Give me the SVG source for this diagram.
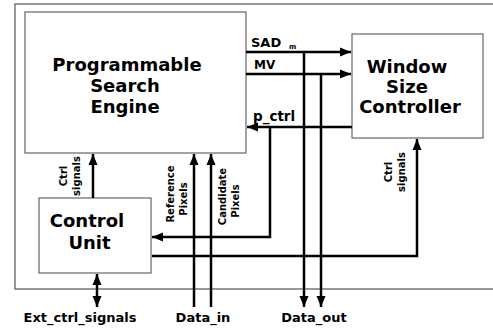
<svg xmlns="http://www.w3.org/2000/svg" width="493" height="331" viewBox="0 0 493 331">
<style>
.box{fill:#fff;stroke:#666;stroke-width:1.2}
.frame{fill:none;stroke:#555;stroke-width:1.2}
.big{font-family:"DejaVu Sans",Verdana,sans-serif;font-weight:bold;font-size:18px;fill:#000;text-anchor:middle}
.lbl{font-family:"DejaVu Sans",Verdana,sans-serif;font-weight:bold;fill:#000}
.rot{font-family:"DejaVu Sans",Verdana,sans-serif;font-weight:bold;font-size:10px;fill:#000;text-anchor:middle}
.io{font-family:"DejaVu Sans",Verdana,sans-serif;font-weight:bold;font-size:13px;fill:#000;text-anchor:middle}
.c{fill:none;stroke:#000;stroke-width:2.5}
</style>
<defs>
<marker id="ah" markerUnits="userSpaceOnUse" markerWidth="12" markerHeight="12" viewBox="0 0 12 12" refX="11" refY="6" orient="auto">
<path d="M0,1.5 L11,6 L0,10.5 Z" fill="#000"/>
</marker>
<marker id="ahs" markerUnits="userSpaceOnUse" markerWidth="12" markerHeight="12" viewBox="0 0 12 12" refX="1" refY="6" orient="auto">
<path d="M12,1.5 L1,6 L12,10.5 Z" fill="#000"/>
</marker>
</defs>
<rect class="frame" x="15" y="4" width="500" height="285"/>
<g id="pse">
<rect class="box" x="25" y="12" width="221" height="141"/>
<text class="big" x="127" y="71">Programmable</text>
<text class="big" x="125" y="92">Search</text>
<text class="big" x="125" y="113">Engine</text>
</g>
<g id="wsc">
<rect class="box" x="352" y="34" width="131" height="104"/>
<text class="big" x="407" y="73">Window</text>
<text class="big" x="407" y="93">Size</text>
<text class="big" x="410" y="113">Controller</text>
</g>
<g id="cu">
<rect class="box" x="39" y="198" width="112" height="75"/>
<text class="big" x="87" y="227">Control</text>
<text class="big" x="89.5" y="249">Unit</text>
</g>
<g id="connectors">
<path class="c" d="M246,52 H351" marker-end="url(#ah)"/>
<path class="c" d="M246,74 H351" marker-end="url(#ah)"/>
<path class="c" d="M352,127 H247" marker-end="url(#ah)"/>
<path class="c" d="M270,127 V237 H152" marker-end="url(#ah)"/>
<path class="c" d="M152,256 H417 V139" marker-end="url(#ah)"/>
<path class="c" d="M93,198 V154" marker-end="url(#ah)"/>
<path class="c" d="M97,274 V307" marker-start="url(#ahs)" marker-end="url(#ah)"/>
<path class="c" d="M304,52 V307" marker-end="url(#ah)"/>
<path class="c" d="M321,74 V307" marker-end="url(#ah)"/>
<path class="c" d="M194,307 V154" marker-end="url(#ah)"/>
<path class="c" d="M211,307 V154" marker-end="url(#ah)"/>
</g>
<g id="labels">
<text class="lbl" x="251" y="47" font-size="13">SAD</text>
<text class="lbl" x="289" y="49" font-size="7">m</text>
<text class="lbl" x="254" y="69" font-size="12">MV</text>
<text class="lbl" x="253" y="121" font-size="13.5">p_ctrl</text>
<text class="rot" transform="translate(67,176) rotate(-90)">Ctrl</text>
<text class="rot" transform="translate(79.5,176) rotate(-90)">signals</text>
<text class="rot" transform="translate(174,194) rotate(-90)">Reference</text>
<text class="rot" transform="translate(187,199) rotate(-90)">Pixels</text>
<text class="rot" transform="translate(226,196.5) rotate(-90)">Candidate</text>
<text class="rot" transform="translate(239,201) rotate(-90)">Pixels</text>
<text class="rot" transform="translate(392,172) rotate(-90)">Ctrl</text>
<text class="rot" transform="translate(404.5,172) rotate(-90)">signals</text>
<text class="io" x="80" y="322">Ext_ctrl_signals</text>
<text class="io" x="203" y="322">Data_in</text>
<text class="io" x="314" y="322">Data_out</text>
</g>
</svg>
